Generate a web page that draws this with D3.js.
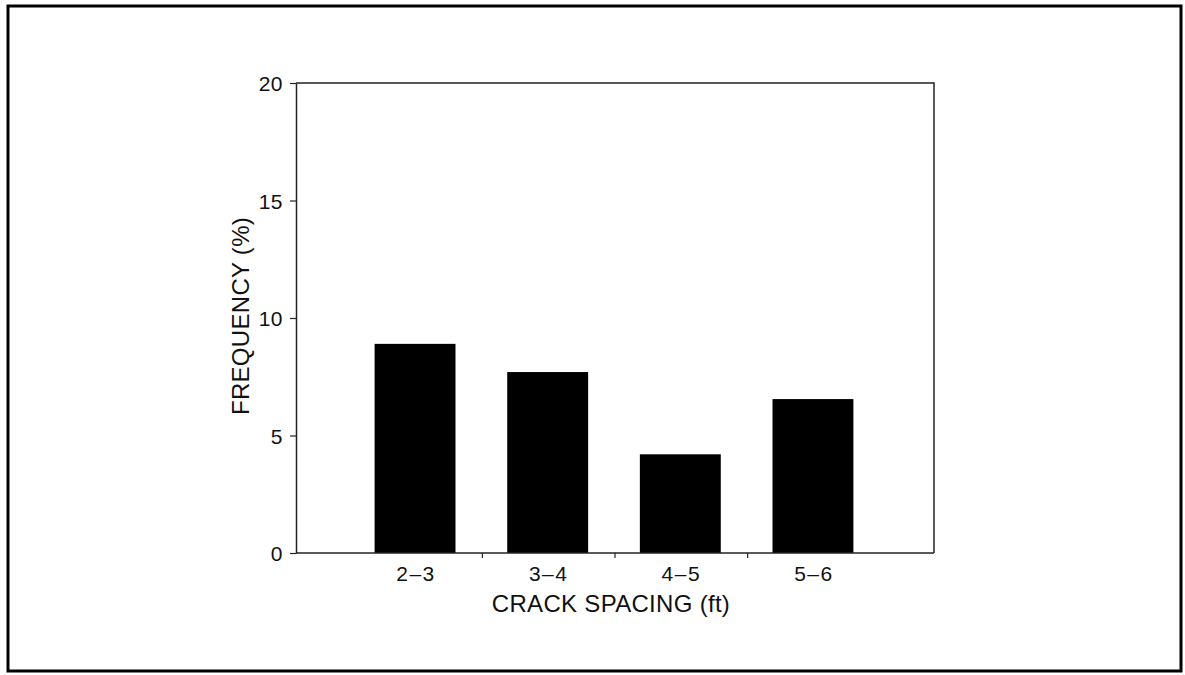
<!DOCTYPE html>
<html>
<head>
<meta charset="utf-8">
<script src="https://cdn.jsdelivr.net/npm/d3@7"></script>
<style>
  html, body { margin: 0; padding: 0; background: #fff; }
  svg { display: block; }
  text { font-family: "Liberation Sans", Arial, sans-serif; fill: #111; }
</style>
</head>
<body>
<svg id="chart" width="1185" height="675"></svg>
<script>
// ---- data ----
const categories = ["2–3", "3–4", "4–5", "5–6"];
const frequency = [8.9, 7.7, 4.2, 6.55];
const yTicks = [0, 5, 10, 15, 20];
const xTitle = "CRACK SPACING (ft)";
const yTitle = "FREQUENCY (%)";

// ---- layout ----
const W = 1185, H = 675;
const plot = { left: 296, right: 934, top: 83, bottom: 553 };

const svg = d3.select("#chart");

// outer frame
svg.append("rect")
  .attr("x", 8).attr("y", 6)
  .attr("width", 1173).attr("height", 665)
  .attr("fill", "none").attr("stroke", "#000").attr("stroke-width", 3);

const x = d3.scaleBand()
  .domain(categories)
  .range([plot.left, plot.right])
  .paddingInner(0.39)
  .paddingOuter(0.6);

const y = d3.scaleLinear().domain([0, 20]).range([plot.bottom, plot.top]);

// bars
svg.append("g").selectAll("rect")
  .data(categories)
  .join("rect")
  .attr("x", d => x(d) - 1)
  .attr("width", x.bandwidth())
  .attr("y", (d, i) => y(frequency[i]))
  .attr("height", (d, i) => y(0) - y(frequency[i]))
  .attr("fill", "#000");

// plot box (top & right)
svg.append("path")
  .attr("d", `M${plot.left},${plot.top}H${plot.right}V${plot.bottom}`)
  .attr("fill", "none").attr("stroke", "#222").attr("stroke-width", 1.5);

// y axis
const yAxis = svg.append("g")
  .attr("transform", `translate(${plot.left},0)`)
  .call(d3.axisLeft(y).tickValues(yTicks).tickSize(6).tickPadding(7).tickSizeOuter(0));
yAxis.select(".domain").attr("stroke", "#222").attr("stroke-width", 1.5);
yAxis.selectAll(".tick line").attr("stroke", "#222").attr("stroke-width", 1.2);
yAxis.selectAll(".tick text")
  .style("font-family", "'Liberation Sans', Arial, sans-serif")
  .style("font-size", "21px").attr("fill", "#111")
  .style("letter-spacing", "0.5px")
  .attr("dy", "0.36em");

// x axis: line, ticks between categories, labels centered on bars
const xAxisG = svg.append("g");
xAxisG.append("line")
  .attr("x1", plot.left).attr("x2", plot.right)
  .attr("y1", plot.bottom).attr("y2", plot.bottom)
  .attr("stroke", "#222").attr("stroke-width", 1.5);
const step = x.step();
const betweens = categories.slice(1).map(c => x(c) - (step - x.bandwidth()) / 2);
xAxisG.selectAll("line.tk")
  .data(betweens)
  .join("line")
  .attr("class", "tk")
  .attr("x1", d => d).attr("x2", d => d)
  .attr("y1", plot.bottom).attr("y2", plot.bottom + 5)
  .attr("stroke", "#222").attr("stroke-width", 1.2);
xAxisG.selectAll("text")
  .data(categories)
  .join("text")
  .attr("x", d => x(d) + x.bandwidth() / 2)
  .attr("y", 581)
  .attr("text-anchor", "middle")
  .style("font-size", "21px")
  .style("letter-spacing", "1.5px")
  .text(d => d);

// axis titles
svg.append("text")
  .attr("x", 611).attr("y", 612)
  .attr("text-anchor", "middle")
  .style("font-size", "24px")
  .style("letter-spacing", "0.3px")
  .text(xTitle);

svg.append("text")
  .attr("transform", "translate(249,316) rotate(-90)")
  .attr("text-anchor", "middle")
  .style("font-size", "24px")
  .style("letter-spacing", "0.3px")
  .text(yTitle);
</script>
</body>
</html>
